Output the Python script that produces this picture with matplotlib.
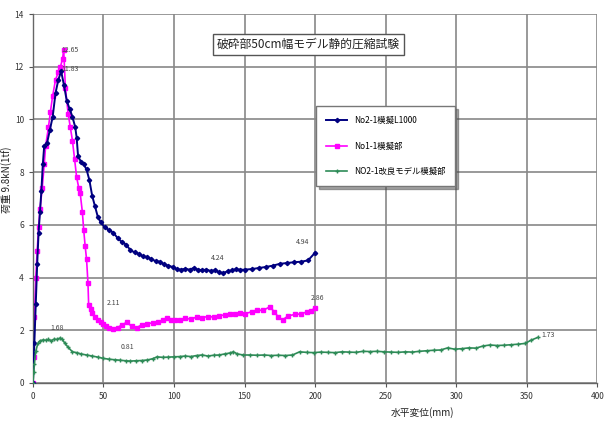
import matplotlib
matplotlib.use('Agg')
import matplotlib.pyplot as plt

plt.rcParams['font.family'] = ['Noto Sans CJK JP', 'DejaVu Sans']

# --- data ------------------------------------------------------------------
blue_x = [0, 1, 2, 3, 4, 5, 6, 7, 8, 10, 12, 14, 16, 18, 20, 22, 24, 26, 28, 30,
          31, 32, 34, 36, 38, 40, 42, 44, 46, 48, 51, 54, 57, 60, 63, 66, 69, 72,
          75, 78, 81, 84, 87, 90, 93, 96, 99, 102, 105, 108, 111, 114, 117, 120,
          123, 126, 129, 132, 135, 138, 141, 144, 147, 150,
          155, 160, 165, 170, 175, 180, 185, 190, 195, 200]
blue_y = [0, 1.5, 3.0, 4.5, 5.7, 6.5, 7.3, 8.3, 9.0, 9.1, 9.6, 10.1, 11.0, 11.5,
          11.83, 11.3, 10.7, 10.4, 10.1, 9.7, 9.3, 8.6, 8.4, 8.3, 8.1, 7.7, 7.1,
          6.7, 6.3, 6.1, 5.9, 5.8, 5.7, 5.5, 5.35, 5.25, 5.05, 4.95, 4.9, 4.8,
          4.78, 4.7, 4.62, 4.6, 4.5, 4.45, 4.4, 4.32, 4.3, 4.33, 4.3, 4.36, 4.3,
          4.28, 4.3, 4.25, 4.27, 4.2, 4.17, 4.24, 4.27, 4.32, 4.29, 4.3,
          4.32, 4.36, 4.4, 4.45, 4.52, 4.55, 4.58, 4.6, 4.65, 4.94]

pink_x = [0, 0.5, 1, 2, 3, 4, 5, 6.6, 8, 9, 11, 12.4, 14, 16, 18, 19.5, 21, 21.8,
          23, 25, 26.5, 28, 29.5, 31, 32.5, 33.5, 35, 36, 37, 38, 39, 39.5, 41, 42,
          44, 46, 48, 50, 52, 54, 57, 60, 63, 66.5, 70, 73.6, 77, 81, 85, 89, 92,
          95, 98, 101, 104, 108, 112, 116, 120, 124, 128, 132, 136, 140, 143, 147,
          150, 155, 159, 163, 168, 171, 174, 177, 181, 186, 190, 194, 197, 200]
pink_y = [0, 1.0, 2.5, 4.0, 5.0, 5.9, 6.6, 7.4, 8.3, 9.0, 9.7, 10.3, 10.9, 11.5,
          11.8, 12.0, 12.3, 12.65, 11.2, 10.2, 9.7, 9.2, 8.5, 7.8, 7.4, 7.2, 6.5,
          5.8, 5.2, 4.7, 3.8, 2.96, 2.8, 2.65, 2.5, 2.4, 2.3, 2.25, 2.15, 2.1,
          2.05, 2.1, 2.2, 2.3, 2.15, 2.1, 2.2, 2.25, 2.28, 2.3, 2.4, 2.45, 2.4,
          2.38, 2.4, 2.45, 2.42, 2.5, 2.48, 2.52, 2.5, 2.55, 2.58, 2.6, 2.62,
          2.66, 2.62, 2.7, 2.77, 2.75, 2.89, 2.7, 2.5, 2.39, 2.55, 2.6, 2.62,
          2.69, 2.72, 2.86]

green_x = [0, 0.5, 1, 2, 3.5, 5, 7, 9, 11, 13, 15, 17, 19, 20.5, 22.7, 25, 28, 31,
           34, 38, 42, 46, 50, 54, 58, 62, 66, 69, 73, 77, 81, 85, 88, 92, 96, 100,
           104, 108, 112, 116, 120, 124, 128, 132, 136, 140, 142, 145, 149,
           154, 159, 164, 169, 174, 179, 184, 189, 194, 199, 204, 209, 214, 219,
           224, 229, 234, 239, 244, 249, 254, 259, 264, 269, 274, 279, 284, 289,
           294, 299, 304, 309, 314, 319, 324, 329, 334, 339, 344, 349, 353, 358]
green_y = [0, 0.4, 0.7, 1.2, 1.5, 1.6, 1.63, 1.62, 1.65, 1.6, 1.66, 1.65, 1.7,
           1.68, 1.5, 1.35, 1.18, 1.15, 1.1, 1.06, 1.02, 0.98, 0.93, 0.9, 0.88,
           0.86, 0.84, 0.83, 0.84, 0.85, 0.87, 0.92, 0.99, 0.97, 0.98, 0.99, 1.0,
           1.02, 1.0, 1.04, 1.06, 1.02, 1.05, 1.06, 1.1, 1.14, 1.18, 1.1, 1.06,
           1.06, 1.05, 1.06, 1.04, 1.05, 1.04, 1.06, 1.18, 1.16, 1.15, 1.17, 1.16,
           1.15, 1.18, 1.17, 1.16, 1.2, 1.19, 1.2, 1.18, 1.17, 1.16, 1.18, 1.17,
           1.2, 1.22, 1.24, 1.25, 1.33, 1.28, 1.3, 1.33, 1.32, 1.4, 1.44, 1.42,
           1.43, 1.45, 1.47, 1.5, 1.62, 1.73]

series_labels = ['No2-1模擬L1000', 'No1-1模擬部', 'NO2-1改良モデル模擬部']

# value labels: (text, x, y)
notes = [('12.65', 26, 12.65), ('11.83', 26, 11.9), ('4.24', 131, 4.75),
         ('4.94', 191, 5.35), ('2.11', 57, 3.03), ('2.86', 202, 3.22),
         ('1.68', 17, 2.08), ('0.81', 67, 1.37), ('1.73', 365, 1.82)]

x_ticks = [0, 50, 100, 150, 200, 250, 300, 350, 400]
y_ticks = [0, 2, 4, 6, 8, 10, 12, 14]

# --- plot ---------------------------------------------------------------------
fig = plt.figure(figsize=(6.1, 4.25), dpi=100)
ax = fig.add_axes([0.054, 0.099, 0.925, 0.868])

ax.plot(blue_x, blue_y, color='#000080', lw=1.4, marker='D', ms=2.2,
        label=series_labels[0], zorder=3)
ax.plot(pink_x, pink_y, color='#ff00ff', lw=1.2, marker='s', ms=2.8,
        label=series_labels[1], zorder=2)
ax.plot(green_x, green_y, color='#2e8b57', lw=1.2, marker='+', ms=3.5, mew=1.0,
        label=series_labels[2], zorder=3)

for txt, x, y in notes:
    ax.text(x, y, txt, fontsize=5, color='#444444', ha='center', va='center')

ax.set_xlim(0, 400)
ax.set_ylim(0, 14)
ax.set_xticks(x_ticks)
ax.set_yticks(y_ticks)
ax.tick_params(labelsize=6, length=3, color='#555555', labelcolor='#333333')
for s in ['top', 'right']:
    ax.spines[s].set_visible(False)
for s in ['left', 'bottom']:
    ax.spines[s].set_color('#666666')
    ax.spines[s].set_linewidth(1.0)
ax.grid(True, color='#888888', lw=1.2)
ax.set_axisbelow(True)

ax.set_xlabel('水平変位(mm)', fontsize=7, color='#222222')
ax.xaxis.set_label_coords(0.69, -0.065)
ax.set_ylabel('荷重 9.8kN(1tf)', fontsize=7, color='#222222')
ax.yaxis.set_label_coords(-0.035, 0.55)

ax.text(0.488, 0.918, '破砕部50cm幅モデル静的圧縮試験', transform=ax.transAxes,
        fontsize=8.5, ha='center', va='center', color='#222222',
        bbox=dict(boxstyle='square,pad=0.35', fc='white', ec='#555555', lw=1.0))

leg = ax.legend(loc='upper left', bbox_to_anchor=(0.495, 0.762), fontsize=6,
                frameon=True, fancybox=False, shadow=True, labelspacing=2.0,
                borderpad=1.2, handlelength=2.5, edgecolor='#777777')

fig.savefig('out.png', dpi=100)
